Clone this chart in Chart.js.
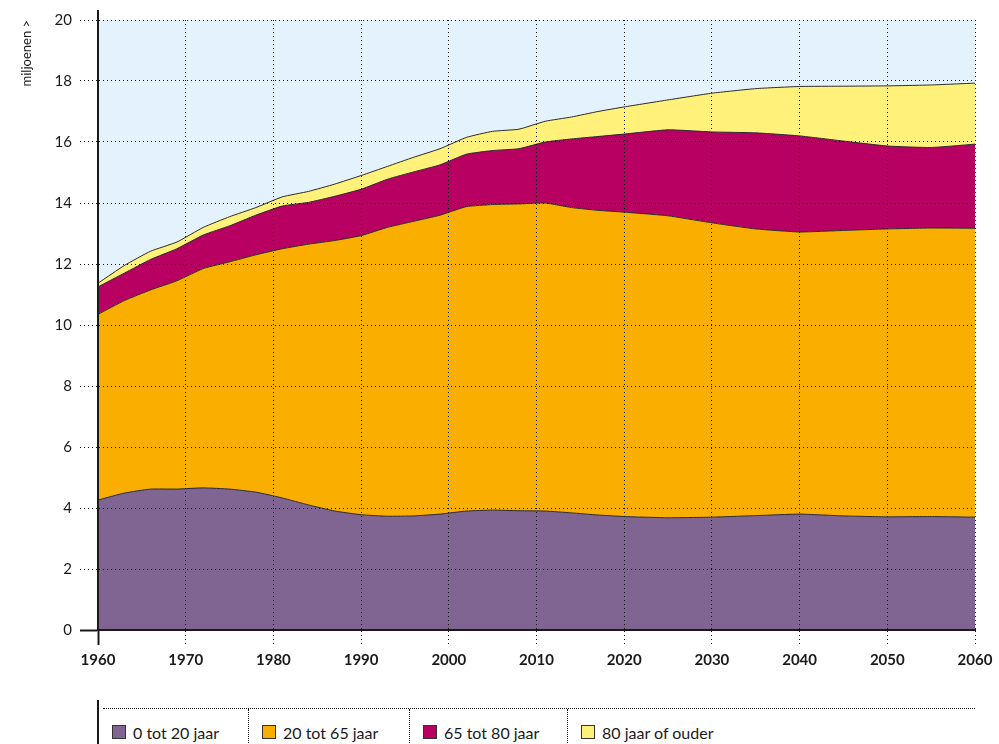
<!DOCTYPE html>
<html lang="nl">
<head>
  <meta charset="UTF-8">
  <title>Bevolking naar leeftijdsgroep</title>
  <script src="https://cdn.jsdelivr.net/npm/chart.js"></script>
  <style>
    body { margin:0; background:#fff; font-family:Lato, "Open Sans", sans-serif; color:#1a1a1a }
    .wrap { position:relative; width:999px; height:744px; overflow:hidden }
    #popChart { position:absolute; left:0; top:0 }
    .legend-bar { position:absolute; left:97px; top:700px; width:2px; height:44px; background:#1a1a1a }
    .legend {
      position:absolute; left:103px; top:708px; width:872px; height:36px;
      border-top:1px dotted #111; display:flex;
    }
    .legend .item { display:flex; align-items:center; font-size:16px; padding-top:10px; box-sizing:border-box }
    .legend .item + .item { border-left:1px dotted #111 }
    .legend .sw { width:12px; height:12px; border:1px solid #333; margin-right:7px; flex:none }
  </style>
</head>
<body>
  <div class="wrap">
    <canvas id="popChart" width="999" height="690"></canvas>
    <div class="legend-bar"></div>
    <div class="legend" id="legend"></div>
  </div>

  <script>
    // jaren en aantallen (miljoenen), per leeftijdsgroep
    const years     = [1960,1963,1966,1969,1972,1975,1978,1981,1984,1987,1990,1993,1996,1999,2002,2005,2008,2011,2014,2017,2020,2025,2030,2035,2040,2045,2050,2055,2060];
    const age0_20   = [4.26,4.49,4.62,4.62,4.66,4.62,4.52,4.33,4.10,3.90,3.78,3.73,3.74,3.80,3.90,3.93,3.91,3.90,3.84,3.77,3.72,3.68,3.70,3.75,3.80,3.74,3.71,3.72,3.70];
    const age20_65  = [6.09,6.31,6.53,6.83,7.19,7.45,7.78,8.17,8.55,8.87,9.15,9.47,9.66,9.80,9.98,10.02,10.06,10.10,10.01,9.99,9.98,9.90,9.65,9.40,9.25,9.36,9.44,9.46,9.47];
    const age65_80  = [0.90,0.90,1.00,1.05,1.10,1.18,1.30,1.40,1.37,1.45,1.52,1.58,1.62,1.65,1.72,1.77,1.81,2.00,2.25,2.42,2.56,2.82,2.98,3.15,3.15,2.93,2.72,2.64,2.76];
    const age80plus = [0.12,0.25,0.27,0.22,0.25,0.30,0.25,0.30,0.36,0.40,0.45,0.42,0.48,0.53,0.55,0.63,0.64,0.68,0.72,0.82,0.89,0.98,1.27,1.45,1.62,1.80,1.97,2.05,2.00];

    const seriesLabels = ["0 tot 20 jaar","20 tot 65 jaar","65 tot 80 jaar","80 jaar of ouder"];
    const seriesColors = ["#806593","#f9ae00","#b80062","#fff17a"];
    const seriesData   = [age0_20, age20_65, age65_80, age80plus];
    const legendWidths = [145,161,158,408];

    const FONT = "Lato, 'Open Sans', sans-serif";
    const INK = "#1a1a1a";
    const DOT = "#111";

    const plotBg = {
      id:"plotBg",
      beforeDraw(chart){
        const {ctx, chartArea:a} = chart;
        ctx.save();
        ctx.fillStyle = "#e3f2fc";
        ctx.fillRect(a.left, a.top, a.right-a.left, a.bottom-a.top);
        ctx.restore();
      },
      afterDraw(chart){
        // y-as iets boven het plotvlak laten doorlopen
        const {ctx, chartArea:a} = chart;
        ctx.save();
        ctx.strokeStyle = INK; ctx.lineWidth = 2;
        ctx.beginPath(); ctx.moveTo(a.left, a.top-10); ctx.lineTo(a.left, a.top); ctx.stroke();
        ctx.restore();
      }
    };

    const datasets = seriesData.map((vals,i)=>({
      label: seriesLabels[i],
      data: years.map((y,j)=>({x:y, y:vals[j]})),
      backgroundColor: seriesColors[i],
      borderColor: "#2a2a2a",
      borderWidth: 1,
      fill: i===0 ? "origin" : "-1",
      pointRadius: 0,
      tension: 0.15
    }));

    new Chart(document.getElementById("popChart"), {
      type: "line",
      data: { datasets },
      plugins: [plotBg],
      options: {
        responsive: false,
        animation: false,
        layout: { padding: { top:20, right:24, left:0, bottom:0 } },
        plugins: { legend:{display:false}, tooltip:{enabled:false} },
        scales: {
          x: {
            type: "linear", min:1960, max:2060,
            ticks: {
              stepSize:10, callback:v=>String(v), maxRotation:0,
              color:INK, padding:6, font:{family:FONT, size:15, weight:"bold"}
            },
            grid: {
              z:1, color:DOT, lineWidth:1, tickLength:15,
              tickColor: c => c.tick && c.tick.value===1960 ? INK : DOT,
              tickWidth: c => c.tick && c.tick.value===1960 ? 2 : 1,
              tickBorderDash: c => c.tick && c.tick.value===1960 ? [] : [1,3]
            },
            border: { display:true, color:INK, width:2, dash:[1,3], z:2 },
            afterFit: s => { s.height = 60; }
          },
          y: {
            stacked: true, min:0, max:20,
            ticks: { stepSize:2, color:INK, padding:8, font:{family:FONT, size:15} },
            grid: {
              z:1, color:DOT, lineWidth:1, tickLength:18,
              tickColor: c => c.tick && c.tick.value===0 ? INK : DOT,
              tickWidth: c => c.tick && c.tick.value===0 ? 2 : 1,
              tickBorderDash: c => c.tick && c.tick.value===0 ? [] : [1,3]
            },
            border: { display:true, color:INK, width:2, dash:[1,3], z:2 },
            title: {
              display:true, text:"miljoenen >", align:"end",
              color:INK, font:{family:FONT, size:13}, padding:{top:19, bottom:0}
            },
            afterFit: s => { s.width = 98; }
          }
        }
      }
    });

    // legenda
    const lg = document.getElementById("legend");
    seriesLabels.forEach((name,i)=>{
      const d = document.createElement("div");
      d.className = "item";
      d.style.width = legendWidths[i]+"px";
      d.style.paddingLeft = (i===0 ? 9 : 13)+"px";
      d.innerHTML = `<span class="sw" style="background:${seriesColors[i]}"></span>${name}`;
      lg.appendChild(d);
    });
  </script>
</body>
</html>
